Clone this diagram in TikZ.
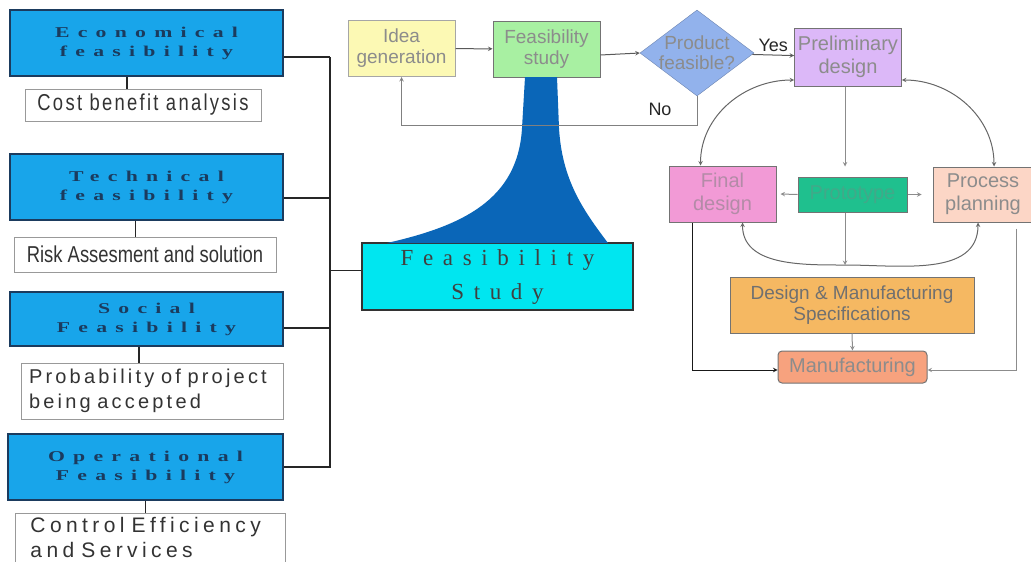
\documentclass[tikz,border=0pt]{standalone}
\usepackage{fontspec}
\setmainfont{Liberation Sans}
\newfontfamily\widefont[FakeStretch=1.45,LetterSpace=55]{Liberation Serif}
\newfontfamily\studyfont[LetterSpace=42]{Liberation Serif}
\newfontfamily\narrowfont[FakeStretch=0.8,LetterSpace=10]{Liberation Sans}
\newfontfamily\condfont[FakeStretch=0.8]{Liberation Sans}
\newfontfamily\notefont[LetterSpace=16]{Liberation Sans}
\newfontfamily\ctrlfont[LetterSpace=21]{Liberation Sans}
\usetikzlibrary{shapes.geometric, arrows}

\definecolor{boxblue}{HTML}{18A5EA}
\definecolor{navytext}{HTML}{1B3B5E}
\definecolor{studycyan}{HTML}{00E6F0}
\definecolor{funnelblue}{HTML}{0A66B8}
\definecolor{ideayellow}{HTML}{FCF9B4}
\definecolor{feasgreen}{HTML}{A8F0A2}
\definecolor{diamondblue}{HTML}{92B2EC}
\definecolor{prelimlilac}{HTML}{DCB8F8}
\definecolor{finalpink}{HTML}{F29AD6}
\definecolor{prototeal}{HTML}{1FC08E}
\definecolor{processpeach}{HTML}{FCD6C6}
\definecolor{specorange}{HTML}{F5B862}
\definecolor{manufsalmon}{HTML}{F7A27E}
\definecolor{flowgray}{HTML}{8C8C8C}

\tikzstyle{bluebox} = [rectangle, 
minimum width=273pt, 
minimum height=66pt, 
text centered, align=center,
draw=navytext, line width=1.5pt, 
fill=boxblue, text=navytext,
font=\widefont\bfseries\fontsize{15}{19}\selectfont]
\tikzstyle{notebox} = [rectangle, 
inner sep=0pt,
draw=gray!80, line width=1pt, 
fill=white, text=black!80]
\tikzstyle{studybox} = [rectangle, 
minimum width=271pt, 
minimum height=67pt, 
text centered, align=center,
draw=black!80, line width=1.2pt, 
fill=studycyan, text=black!75,
font=\studyfont\fontsize{23}{34}\selectfont]
\tikzstyle{flowbox} = [rectangle, 
minimum width=107pt, 
minimum height=56pt, 
text centered, align=center,
draw=black!55, line width=1pt, 
text=flowgray,
font=\fontsize{19}{21}\selectfont]
\tikzstyle{rightbox} = [flowbox, font=\fontsize{20}{23}\selectfont]
\tikzstyle{decision} = [diamond, 
minimum width=114pt, 
minimum height=86pt, 
inner sep=0pt,
draw=diamondblue!75!black, 
fill=diamondblue]
\tikzstyle{arrow} = [line width=1pt,->,>=stealth,draw=black!65]
\tikzstyle{curve} = [line width=1pt,<->,>=stealth,draw=black!60]
\tikzstyle{link} = [line width=1.2pt,draw=black!85]

\begin{document}
\begin{tikzpicture}[x=1pt, y=-1pt]
\useasboundingbox (0,0) rectangle (1031,562);

% feasibility types
\node (econ) [bluebox] at (146.5,43) {Economical\\feasibility};
\node (cost) [notebox, minimum width=236pt, minimum height=32pt, font=\narrowfont\fontsize{23}{25}\selectfont] at (143,105) {Cost benefit analysis};
\node (tech) [bluebox] at (146.5,187) {Technical\\feasibility};
\node (risk) [notebox, minimum width=262pt, minimum height=35pt, font=\condfont\fontsize{23}{25}\selectfont] at (145,254.5) {Risk Assesment and solution};
\node (social) [bluebox, minimum height=54pt] at (146.5,319) {Social\\Feasibility};
\node (prob) [notebox, text width=246pt, inner xsep=8pt, inner ysep=4pt, minimum height=56pt, align=left, font=\notefont\fontsize{20}{25}\selectfont] at (152,391) {Probability of project\\being accepted};
\node (oper) [bluebox, minimum width=275pt] at (145.5,467) {Operational\\Feasibility};
\node (ctrl) [notebox, anchor=north west, text width=240pt, inner xsep=15pt, inner ysep=4pt, align=left, font=\ctrlfont\fontsize{21}{25}\selectfont] at (15,513) {Control Efficiency\\and Services\\[-4pt]\mbox{}};

\node (study) [studybox] at (497.5,276.5) {Feasibility\\Study};

% process flow
\node (idea) [flowbox, fill=ideayellow, draw=black!35] at (401.5,48.5) {Idea\\generation};
\node (feas) [flowbox, fill=feasgreen] at (546.5,49) {Feasibility\\study};
\node (prod) [decision, label={[text=flowgray, align=center, font=\fontsize{19}{20}\selectfont]center:Product\\feasible?}] at (697,53) {};
\node (prelim) [rightbox, fill=prelimlilac, minimum width=106pt, minimum height=58pt] at (848,57) {Preliminary\\design};
\node (final) [rightbox, fill=finalpink, text=finalpink!45!gray] at (722.5,194) {Final\\design};
\node (proto) [rightbox, fill=prototeal, text=prototeal!65!gray, minimum width=109pt, minimum height=35pt] at (852.5,194.5) {Prototype};
\node (process) [rightbox, fill=processpeach, minimum width=100pt, minimum height=55pt] at (983,194.5) {Process\\planning};
\node (spec) [flowbox, fill=specorange, text=flowgray!80!black, minimum width=244pt] at (852,305) {Design \& Manufacturing\\Specifications};
\node (manuf) [rightbox, fill=manufsalmon, rounded corners=4pt, minimum width=149pt, minimum height=32pt] at (852.5,367) {Manufacturing};
\node (nolabel) [text=black!85, font=\fontsize{18}{20}\selectfont] at (660,109) {No};

% funnel
\fill [funnelblue] (525,77) -- (522,128) .. controls (518,200) and (462,226) .. (387,243) -- (608,243) .. controls (583,210) and (562,180) .. (559,128) -- (557,77) -- cycle;

% bus on the left
\coordinate (bustop) at (330,57);
\coordinate (busbot) at (330,468);
\draw [link] (bustop) -- (busbot);
\draw [link] ([yshift=-14pt]econ.east) -- ([yshift=-14pt]econ.east -| bustop);
\draw [link] ([yshift=-11pt]tech.east) -- ([yshift=-11pt]tech.east -| bustop);
\draw [link] ([yshift=-9pt]social.east) -- ([yshift=-9pt]social.east -| bustop);
\draw [link] (oper.east) -- (oper.east -| bustop);
\draw [link] ([yshift=6pt]study.west) -- ([yshift=6pt]study.west -| bustop);
\draw [link] ([xshift=-19.5pt]econ.south) -- ([xshift=-19.5pt]econ.south |- cost.north);
\draw [link] ([xshift=-11pt]tech.south) -- ([xshift=-11pt]tech.south |- risk.north);
\draw [link] ([xshift=-7.5pt]social.south) -- ([xshift=-7.5pt]social.south |- prob.north);
\draw [link] (oper.south) -- (oper.south |- ctrl.north);

% arrows
\coordinate (noturn) at (697,125);
\coordinate (meet) at (845,265);
\draw [arrow] (idea) -- (feas);
\draw [arrow] ([yshift=-6pt]feas.east) -- (prod.west);
\draw [arrow] (prod) -- node[above, text=black!85, font=\fontsize{18}{20}\selectfont] {Yes} (prelim);
\draw [arrow, draw=black!50] (prod.south) -- (noturn) -| (idea.south);
\draw [arrow, draw=flowgray] ([xshift=-3pt]prelim.south) -- ([xshift=-7.5pt,yshift=10pt]proto.north);
\draw [arrow, draw=flowgray] (proto.west) -- ([xshift=4pt]final.east);
\draw [arrow, draw=flowgray] (proto.east) -- ([xshift=-11pt]process.west);
\draw [arrow, draw=flowgray] ([xshift=-7.5pt]proto.south) -- (meet);
\draw [curve] ([yshift=-23pt]prelim.west) to[out=180,in=90] ([xshift=-22pt]final.north);
\draw [curve] ([yshift=-23pt]prelim.east) to[out=0,in=90] ([xshift=11pt]process.north);
\draw [curve] ([xshift=20pt]final.south) to[out=-90,in=180] (meet) to[out=0,in=-90] ([xshift=-5pt]process.south);
\draw [arrow, draw=flowgray] (spec.south) -- (manuf.north);
\draw [arrow, draw=black!90] ([xshift=-30pt]final.south) |- ([yshift=-3pt]manuf.west);
\draw [arrow, draw=flowgray] ([xshift=33pt,yshift=-6pt]process.south) |- ([yshift=-3pt]manuf.east);

\end{tikzpicture}
\end{document}
